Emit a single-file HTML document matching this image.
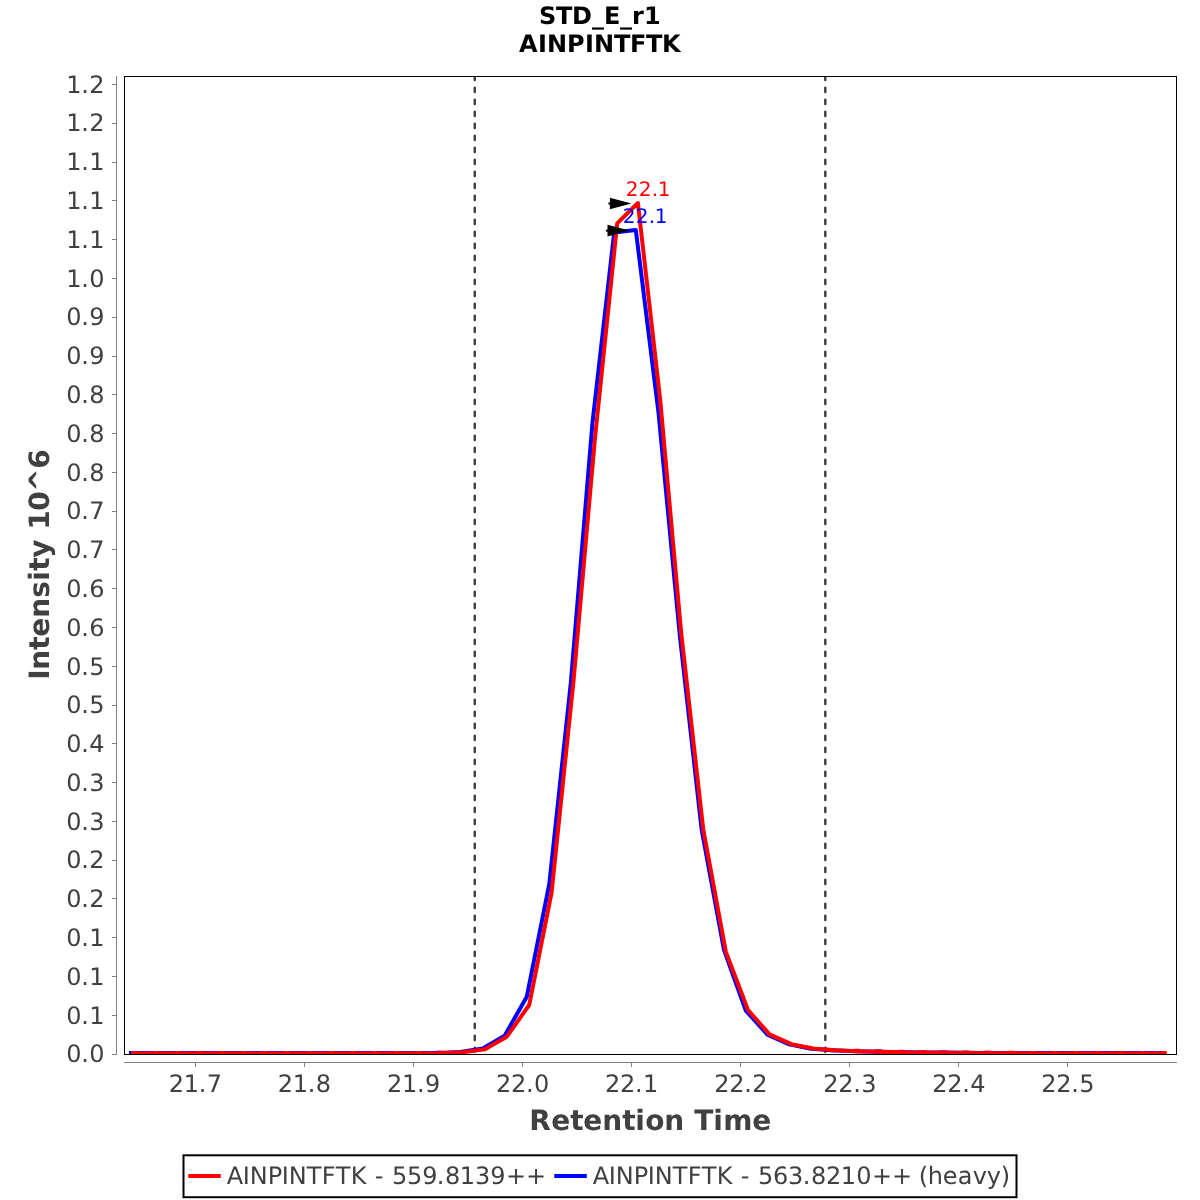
<!DOCTYPE html>
<html lang="en"><head><meta charset="utf-8"><title>STD_E_r1 AINPINTFTK</title>
<style>html,body{margin:0;padding:0;background:#fff;}body{width:1200px;height:1200px;overflow:hidden;}svg{display:block;}text{font-family:'DejaVu Sans', 'Liberation Sans', sans-serif;font-kerning:none;font-variant-ligatures:none;text-rendering:geometricPrecision;}.tk{font-size:24px;fill:#404040;}.ax{font-size:28px;font-weight:bold;fill:#404040;}.tt{font-size:24px;font-weight:bold;fill:#000;}.lg{font-size:24px;fill:#404040;}.an{font-size:20px;}</style></head><body>
<svg width="1200" height="1200" viewBox="0 0 1200 1200">
<rect x="0" y="0" width="1200" height="1200" fill="#ffffff"/>
<text class="tt" x="539 556 572 592 604 620 632 644" y="23.50">STD_E_r1</text>
<text class="tt" x="519 538 547 567 585 594 614 630 646 662" y="52.00">AINPINTFTK</text>
<g stroke="#808080" stroke-width="1" fill="none">
<line x1="116.5" y1="76.0" x2="116.5" y2="1055.0"/>
<line x1="124.0" y1="1062.5" x2="1177.0" y2="1062.5"/>
<line x1="112" y1="1054.50" x2="116.5" y2="1054.50"/>
<line x1="112" y1="1015.50" x2="116.5" y2="1015.50"/>
<line x1="112" y1="976.50" x2="116.5" y2="976.50"/>
<line x1="112" y1="937.50" x2="116.5" y2="937.50"/>
<line x1="112" y1="898.50" x2="116.5" y2="898.50"/>
<line x1="112" y1="860.50" x2="116.5" y2="860.50"/>
<line x1="112" y1="821.50" x2="116.5" y2="821.50"/>
<line x1="112" y1="782.50" x2="116.5" y2="782.50"/>
<line x1="112" y1="743.50" x2="116.5" y2="743.50"/>
<line x1="112" y1="705.50" x2="116.5" y2="705.50"/>
<line x1="112" y1="666.50" x2="116.5" y2="666.50"/>
<line x1="112" y1="627.50" x2="116.5" y2="627.50"/>
<line x1="112" y1="588.50" x2="116.5" y2="588.50"/>
<line x1="112" y1="549.50" x2="116.5" y2="549.50"/>
<line x1="112" y1="511.50" x2="116.5" y2="511.50"/>
<line x1="112" y1="472.50" x2="116.5" y2="472.50"/>
<line x1="112" y1="433.50" x2="116.5" y2="433.50"/>
<line x1="112" y1="394.50" x2="116.5" y2="394.50"/>
<line x1="112" y1="356.50" x2="116.5" y2="356.50"/>
<line x1="112" y1="317.50" x2="116.5" y2="317.50"/>
<line x1="112" y1="278.50" x2="116.5" y2="278.50"/>
<line x1="112" y1="239.50" x2="116.5" y2="239.50"/>
<line x1="112" y1="200.50" x2="116.5" y2="200.50"/>
<line x1="112" y1="162.50" x2="116.5" y2="162.50"/>
<line x1="112" y1="123.50" x2="116.5" y2="123.50"/>
<line x1="112" y1="84.50" x2="116.5" y2="84.50"/>
<line x1="195.50" y1="1062.5" x2="195.50" y2="1067"/>
<line x1="304.50" y1="1062.5" x2="304.50" y2="1067"/>
<line x1="413.50" y1="1062.5" x2="413.50" y2="1067"/>
<line x1="522.50" y1="1062.5" x2="522.50" y2="1067"/>
<line x1="631.50" y1="1062.5" x2="631.50" y2="1067"/>
<line x1="740.50" y1="1062.5" x2="740.50" y2="1067"/>
<line x1="849.50" y1="1062.5" x2="849.50" y2="1067"/>
<line x1="958.50" y1="1062.5" x2="958.50" y2="1067"/>
<line x1="1067.50" y1="1062.5" x2="1067.50" y2="1067"/>
</g>
<g>
<text class="tk" x="66.2 81.2 89.2" y="1062.00">0.0</text>
<text class="tk" x="66.2 81.2 89.2" y="1024.00">0.1</text>
<text class="tk" x="66.2 81.2 89.2" y="985.00">0.1</text>
<text class="tk" x="66.2 81.2 89.2" y="946.00">0.1</text>
<text class="tk" x="66.2 81.2 89.2" y="907.00">0.2</text>
<text class="tk" x="66.2 81.2 89.2" y="868.00">0.2</text>
<text class="tk" x="66.2 81.2 89.2" y="830.00">0.3</text>
<text class="tk" x="66.2 81.2 89.2" y="791.00">0.3</text>
<text class="tk" x="66.2 81.2 89.2" y="752.00">0.4</text>
<text class="tk" x="66.2 81.2 89.2" y="713.00">0.5</text>
<text class="tk" x="66.2 81.2 89.2" y="675.00">0.5</text>
<text class="tk" x="66.2 81.2 89.2" y="636.00">0.6</text>
<text class="tk" x="66.2 81.2 89.2" y="597.00">0.6</text>
<text class="tk" x="66.2 81.2 89.2" y="558.00">0.7</text>
<text class="tk" x="66.2 81.2 89.2" y="519.00">0.7</text>
<text class="tk" x="66.2 81.2 89.2" y="481.00">0.8</text>
<text class="tk" x="66.2 81.2 89.2" y="442.00">0.8</text>
<text class="tk" x="66.2 81.2 89.2" y="403.00">0.8</text>
<text class="tk" x="66.2 81.2 89.2" y="364.00">0.9</text>
<text class="tk" x="66.2 81.2 89.2" y="325.00">0.9</text>
<text class="tk" x="66.2 81.2 89.2" y="287.00">1.0</text>
<text class="tk" x="66.2 81.2 89.2" y="248.00">1.1</text>
<text class="tk" x="66.2 81.2 89.2" y="209.00">1.1</text>
<text class="tk" x="66.2 81.2 89.2" y="170.00">1.1</text>
<text class="tk" x="66.2 81.2 89.2" y="131.00">1.2</text>
<text class="tk" x="66.2 81.2 89.2" y="93.00">1.2</text>
</g>
<g>
<text class="tk" x="168.79 183.79 198.79 206.79" y="1092.00">21.7</text>
<text class="tk" x="277.86 292.86 307.86 315.86" y="1092.00">21.8</text>
<text class="tk" x="386.93 401.93 416.93 424.93" y="1092.00">21.9</text>
<text class="tk" x="496 511 526 534" y="1092.00">22.0</text>
<text class="tk" x="605.07 620.07 635.07 643.07" y="1092.00">22.1</text>
<text class="tk" x="714.14 729.14 744.14 752.14" y="1092.00">22.2</text>
<text class="tk" x="823.21 838.21 853.21 861.21" y="1092.00">22.3</text>
<text class="tk" x="932.28 947.28 962.28 970.28" y="1092.00">22.4</text>
<text class="tk" x="1041.35 1056.35 1071.35 1079.35" y="1092.00">22.5</text>
</g>
<text class="ax" x="529.25 551.25 570.25 583.25 602.25 622.25 635.25 645.25 664.25 684.25 694.25 713.25 723.25 752.25" y="1130.00">Retention Time</text>
<text class="ax" x="-115 -105 -85 -72 -53 -33 -16 -6 7 25 35 54 73 96" y="0.00" transform="translate(49,564.8) rotate(-90)">Intensity 10^6</text>
<clipPath id="pc"><rect x="124.5" y="76.5" width="1052.0" height="978.0"/></clipPath>
<g clip-path="url(#pc)">
<g stroke="#3a3a3a" stroke-width="2.4" stroke-dasharray="4.2 7.8" stroke-linecap="round" fill="none">
<line x1="474.75" y1="75.8" x2="474.75" y2="1054.5"/>
<line x1="825.3" y1="75.8" x2="825.3" y2="1054.5"/>
</g>
<g stroke="#0000ff" stroke-width="4" fill="none">
<polyline points="131.69,1053.10 153.60,1053.10 175.52,1053.10 197.44,1053.10 219.36,1053.10 241.28,1053.10 263.19,1053.10 285.11,1053.10 307.03,1053.10 328.95,1053.10 350.87,1053.10 372.78,1053.10 394.70,1053.10 416.62,1053.10 438.54,1052.90 460.46,1052.00 482.75,1048.50 504.60,1035.80 526.80,996.70 549.30,884.00 570.80,683.00 592.40,423.50 614.20,232.60 635.80,230.00 658.60,413.50 679.90,636.40 701.70,830.00 723.90,949.50 745.80,1010.60 767.40,1034.60 789.20,1044.30 810.90,1048.70 832.90,1050.30 854.80,1051.20 876.80,1051.70 898.70,1052.10 920.70,1052.40 942.60,1052.60 964.60,1052.80 986.50,1052.90 1008.50,1053.00 1030.32,1053.05 1052.24,1053.05 1074.16,1053.05 1096.08,1053.05 1118.00,1053.05 1139.91,1053.05 1161.83,1053.05" stroke-linejoin="round" stroke-linecap="square"/>
<line x1="128.99" y1="1053.00" x2="134.39" y2="1053.00"/>
<line x1="150.90" y1="1053.00" x2="156.30" y2="1053.00"/>
<line x1="172.82" y1="1053.00" x2="178.22" y2="1053.00"/>
<line x1="194.74" y1="1053.00" x2="200.14" y2="1053.00"/>
<line x1="216.66" y1="1053.00" x2="222.06" y2="1053.00"/>
<line x1="238.58" y1="1053.00" x2="243.98" y2="1053.00"/>
<line x1="260.49" y1="1053.00" x2="265.89" y2="1053.00"/>
<line x1="282.41" y1="1053.00" x2="287.81" y2="1053.00"/>
<line x1="304.33" y1="1053.00" x2="309.73" y2="1053.00"/>
<line x1="326.25" y1="1053.00" x2="331.65" y2="1053.00"/>
<line x1="348.17" y1="1053.00" x2="353.57" y2="1053.00"/>
<line x1="370.08" y1="1053.00" x2="375.48" y2="1053.00"/>
<line x1="392.00" y1="1053.00" x2="397.40" y2="1053.00"/>
<line x1="413.92" y1="1053.00" x2="419.32" y2="1053.00"/>
<line x1="435.84" y1="1052.80" x2="441.24" y2="1052.80"/>
<line x1="830.20" y1="1050.20" x2="835.60" y2="1050.20"/>
<line x1="852.10" y1="1051.10" x2="857.50" y2="1051.10"/>
<line x1="874.10" y1="1051.60" x2="879.50" y2="1051.60"/>
<line x1="896.00" y1="1052.00" x2="901.40" y2="1052.00"/>
<line x1="918.00" y1="1052.30" x2="923.40" y2="1052.30"/>
<line x1="939.90" y1="1052.50" x2="945.30" y2="1052.50"/>
<line x1="961.90" y1="1052.70" x2="967.30" y2="1052.70"/>
<line x1="983.80" y1="1052.80" x2="989.20" y2="1052.80"/>
<line x1="1005.80" y1="1052.90" x2="1011.20" y2="1052.90"/>
<line x1="1027.62" y1="1052.95" x2="1033.02" y2="1052.95"/>
<line x1="1049.54" y1="1052.95" x2="1054.94" y2="1052.95"/>
<line x1="1071.46" y1="1052.95" x2="1076.86" y2="1052.95"/>
<line x1="1093.38" y1="1052.95" x2="1098.78" y2="1052.95"/>
<line x1="1115.30" y1="1052.95" x2="1120.70" y2="1052.95"/>
<line x1="1137.21" y1="1052.95" x2="1142.61" y2="1052.95"/>
<line x1="1159.13" y1="1052.95" x2="1164.53" y2="1052.95"/>
</g>
<g stroke="#ff0000" stroke-width="4" fill="none">
<polyline points="133.89,1053.55 155.80,1053.55 177.72,1053.55 199.64,1053.55 221.56,1053.55 243.48,1053.55 265.39,1053.55 287.31,1053.55 309.23,1053.55 331.15,1053.55 353.07,1053.55 374.98,1053.55 396.90,1053.55 418.82,1053.55 440.74,1053.30 462.66,1052.20 484.90,1049.20 506.85,1036.70 529.20,1005.00 551.60,892.50 573.50,681.00 594.80,440.00 617.20,223.40 637.90,203.00 660.20,400.00 681.10,632.00 703.20,829.00 725.80,951.60 748.00,1010.00 769.50,1034.40 791.40,1044.20 813.30,1048.50 835.20,1050.30 857.20,1051.30 879.10,1051.80 901.00,1052.20 923.00,1052.50 944.90,1052.75 966.80,1052.95 988.80,1053.15 1010.70,1053.30 1032.52,1053.45 1054.44,1053.45 1076.36,1053.45 1098.28,1053.45 1120.20,1053.45 1142.11,1053.45 1164.03,1053.45" stroke-linejoin="round" stroke-linecap="square"/>
<line x1="131.19" y1="1053.05" x2="136.59" y2="1053.05"/>
<line x1="153.10" y1="1053.05" x2="158.50" y2="1053.05"/>
<line x1="175.02" y1="1053.05" x2="180.42" y2="1053.05"/>
<line x1="196.94" y1="1053.05" x2="202.34" y2="1053.05"/>
<line x1="218.86" y1="1053.05" x2="224.26" y2="1053.05"/>
<line x1="240.78" y1="1053.05" x2="246.18" y2="1053.05"/>
<line x1="262.69" y1="1053.05" x2="268.09" y2="1053.05"/>
<line x1="284.61" y1="1053.05" x2="290.01" y2="1053.05"/>
<line x1="306.53" y1="1053.05" x2="311.93" y2="1053.05"/>
<line x1="328.45" y1="1053.05" x2="333.85" y2="1053.05"/>
<line x1="350.37" y1="1053.05" x2="355.77" y2="1053.05"/>
<line x1="372.28" y1="1053.05" x2="377.68" y2="1053.05"/>
<line x1="394.20" y1="1053.05" x2="399.60" y2="1053.05"/>
<line x1="416.12" y1="1053.05" x2="421.52" y2="1053.05"/>
<line x1="438.04" y1="1052.80" x2="443.44" y2="1052.80"/>
<line x1="854.50" y1="1050.80" x2="859.90" y2="1050.80"/>
<line x1="876.40" y1="1051.30" x2="881.80" y2="1051.30"/>
<line x1="898.30" y1="1051.70" x2="903.70" y2="1051.70"/>
<line x1="920.30" y1="1052.00" x2="925.70" y2="1052.00"/>
<line x1="942.20" y1="1052.25" x2="947.60" y2="1052.25"/>
<line x1="964.10" y1="1052.45" x2="969.50" y2="1052.45"/>
<line x1="986.10" y1="1052.65" x2="991.50" y2="1052.65"/>
<line x1="1008.00" y1="1052.80" x2="1013.40" y2="1052.80"/>
<line x1="1029.82" y1="1052.95" x2="1035.22" y2="1052.95"/>
<line x1="1051.74" y1="1052.95" x2="1057.14" y2="1052.95"/>
<line x1="1073.66" y1="1052.95" x2="1079.06" y2="1052.95"/>
<line x1="1095.58" y1="1052.95" x2="1100.98" y2="1052.95"/>
<line x1="1117.50" y1="1052.95" x2="1122.90" y2="1052.95"/>
<line x1="1139.41" y1="1052.95" x2="1144.81" y2="1052.95"/>
<line x1="1161.33" y1="1052.95" x2="1166.73" y2="1052.95"/>
</g>
</g>
<rect x="124.5" y="76.5" width="1052.0" height="978.0" fill="none" stroke="#000" stroke-width="1"/>
<line x1="608.40" y1="203.50" x2="611.90" y2="203.50" stroke="#000" stroke-width="2"/><polygon points="631.40,203.50 609.90,197.75 609.90,209.25" fill="#000"/>
<line x1="606.00" y1="230.60" x2="609.50" y2="230.60" stroke="#000" stroke-width="2"/><polygon points="629.40,230.60 607.50,224.75 607.50,236.45" fill="#000"/>
<text class="an" x="625.8 638.8 651.8 657.8" y="196.00" fill="#ff0000">22.1</text>
<text class="an" x="622.85 635.85 648.85 654.85" y="222.80" fill="#0000ff">22.1</text>
<rect x="183.5" y="1155.3" width="833" height="41.9" fill="#fff" stroke="#000" stroke-width="2"/>
<line x1="188.3" y1="1176" x2="220.8" y2="1176" stroke="#ff0000" stroke-width="4"/>
<text class="lg" x="226.8 242.8 249.8 267.8 281.8 288.8 306.8 321.8 335.8 350.8 366.8 374.8 383.8 392 407 422.2 436.8 445 459.8 475 490.2 506 526" y="1184.00">AINPINTFTK - 559.8139++</text>
<line x1="554.3" y1="1176" x2="586.8" y2="1176" stroke="#0000ff" stroke-width="4"/>
<text class="lg" x="592.8 608.8 615.8 633.8 647.8 654.8 672.8 687.8 701.8 716.8 732.8 740.8 749.8 758 773 788 802.8 811 826 840.8 856.2 872 892 910.8 918.8 927.8 942.8 957.8 972.8 986.8 1000.8" y="1184.00">AINPINTFTK - 563.8210++ (heavy)</text>
</svg></body></html>
